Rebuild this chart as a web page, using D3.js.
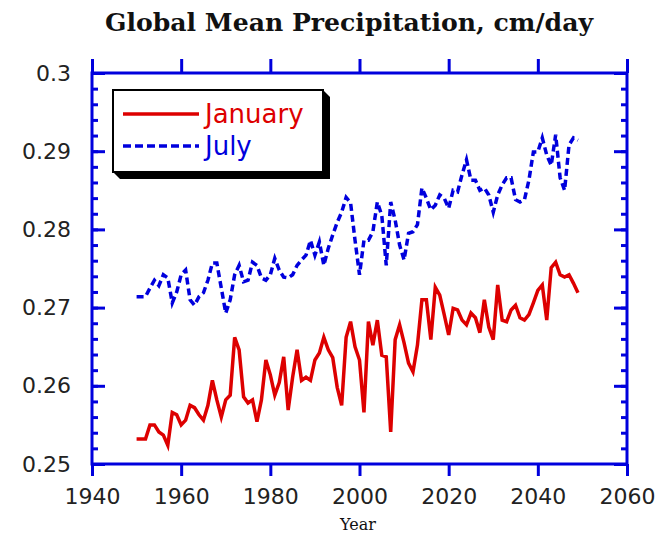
<!DOCTYPE html>
<html>
<head>
<meta charset="utf-8">
<script src="https://cdn.jsdelivr.net/npm/d3@7"></script>
<style>
  html, body { margin: 0; padding: 0; background: #fff; }
  svg { display: block; }
</style>
</head>
<body>
<svg id="chart" width="660" height="535"></svg>
<script>
// Annual global mean precipitation (cm/day), 1950-2049
const years = d3.range(1950, 2050);

const january = [
  0.2532, 0.2532, 0.2532, 0.2550, 0.2550, 0.2541, 0.2537, 0.2524, 0.2566, 0.2563,
  0.2550, 0.2556, 0.2575, 0.2572, 0.2563, 0.2556, 0.2575, 0.2607, 0.2582, 0.2560,
  0.2582, 0.2588, 0.2662, 0.2646, 0.2586, 0.2578, 0.2582, 0.2554, 0.2582, 0.2633,
  0.2614, 0.2588, 0.2604, 0.2637, 0.2569, 0.2611, 0.2646, 0.2607, 0.2611, 0.2607,
  0.2633, 0.2642, 0.2662, 0.2646, 0.2636, 0.2598, 0.2575, 0.2662, 0.2682, 0.2650,
  0.2633, 0.2566, 0.2682, 0.2652, 0.2684, 0.2639, 0.2637, 0.2541, 0.2659, 0.2678,
  0.2655, 0.2629, 0.2618, 0.2652, 0.2710, 0.2710, 0.2659, 0.2726, 0.2716, 0.2691,
  0.2665, 0.2699, 0.2697, 0.2684, 0.2678, 0.2693, 0.2687, 0.2668, 0.2710, 0.2675,
  0.2659, 0.2729, 0.2684, 0.2682, 0.2697, 0.2703, 0.2687, 0.2684, 0.2691, 0.2706,
  0.2722, 0.2729, 0.2684, 0.2751, 0.2758, 0.2742, 0.2739, 0.2742, 0.2731, 0.2719
];

const july = [
  0.2714, 0.2714, 0.2714, 0.2725, 0.2735, 0.2728, 0.2742, 0.2738, 0.2706, 0.2720,
  0.2742, 0.2748, 0.2710, 0.2703, 0.2714, 0.2719, 0.2735, 0.2757, 0.2757, 0.2725,
  0.2693, 0.2710, 0.2742, 0.2754, 0.2733, 0.2735, 0.2758, 0.2754, 0.2738, 0.2735,
  0.2742, 0.2763, 0.2748, 0.2739, 0.2738, 0.2742, 0.2754, 0.2761, 0.2767, 0.2786,
  0.2767, 0.2784, 0.2754, 0.2776, 0.2793, 0.2809, 0.2822, 0.2841, 0.2834, 0.2786,
  0.2742, 0.2786, 0.2786, 0.2797, 0.2835, 0.2818, 0.2754, 0.2835, 0.2812, 0.2780,
  0.2761, 0.2795, 0.2797, 0.2806, 0.2853, 0.2840, 0.2825, 0.2831, 0.2844, 0.2840,
  0.2827, 0.2850, 0.2848, 0.2870, 0.2889, 0.2863, 0.2863, 0.2850, 0.2853, 0.2844,
  0.2822, 0.2844, 0.2857, 0.2866, 0.2866, 0.2838, 0.2835, 0.2838, 0.2863, 0.2899,
  0.2899, 0.2917, 0.2895, 0.2882, 0.2921, 0.2866, 0.2850, 0.2908, 0.2917, 0.2914
];

const xTicks = [1940, 1960, 1980, 2000, 2020, 2040, 2060];
const yTicks = [0.25, 0.26, 0.27, 0.28, 0.29, 0.3];
const yMinorTicks = d3.range(0.25, 0.3001, 0.002);

const seriesNames = ["January", "July"];

const RED = "#dd0000";
const BLUE = "#0000dd";

const svg = d3.select("#chart");

const x = d3.scaleLinear().domain([1940, 2060]).range([92, 627]);
const y = d3.scaleLinear().domain([0.25, 0.3]).range([464, 73]);

// Title
svg.append("text")
  .attr("x", 349).attr("y", 31)
  .attr("text-anchor", "middle")
  .attr("font-family", "'DejaVu Serif', serif")
  .attr("font-weight", "bold")
  .attr("font-size", 24)
  .attr("textLength", 488)
  .attr("lengthAdjust", "spacingAndGlyphs")
  .attr("fill", "#111")
  .text("Global Mean Precipitation, cm/day");

// Data lines
const line = d3.line()
  .x((d, i) => x(years[i]))
  .y(d => y(d))
  .curve(d3.curveLinear);

svg.append("path")
  .datum(july)
  .attr("d", line)
  .attr("fill", "none")
  .attr("stroke", BLUE)
  .attr("stroke-width", 3.5)
  .attr("stroke-dasharray", "7,4");

svg.append("path")
  .datum(january)
  .attr("d", line)
  .attr("fill", "none")
  .attr("stroke", RED)
  .attr("stroke-width", 3.5);

// Frame axes
const axisG = svg.append("g").attr("fill", "none").attr("stroke", BLUE).attr("stroke-width", 3);
const [x0, x1] = x.range();
const [yb, yt] = y.range();

axisG.append("rect")
  .attr("x", x0).attr("y", yt)
  .attr("width", x1 - x0).attr("height", yb - yt);

// Bottom and top: major ticks pointing outward
const bottomAxis = d3.axisBottom(x).tickValues(xTicks).tickSize(12).tickFormat(d3.format("d"));
const topAxis = d3.axisTop(x).tickValues(xTicks).tickSize(14).tickFormat("");

const gB = svg.append("g").attr("transform", `translate(0,${yb})`).call(bottomAxis);
const gT = svg.append("g").attr("transform", `translate(0,${yt})`).call(topAxis);

// Left and right: ticks pointing inward
const leftMinor = d3.axisRight(y).tickValues(yMinorTicks).tickSize(6).tickFormat("");
const leftMajor = d3.axisRight(y).tickValues(yTicks).tickSize(13).tickFormat("");
const rightMinor = d3.axisLeft(y).tickValues(yMinorTicks).tickSize(6).tickFormat("");
const rightMajor = d3.axisLeft(y).tickValues(yTicks).tickSize(13).tickFormat("");
const leftLabels = d3.axisLeft(y).tickValues(yTicks).tickSize(0).tickPadding(21).tickFormat(d => d === 0.3 ? "0.3" : d3.format(".2f")(d));

const gL1 = svg.append("g").attr("transform", `translate(${x0},0)`).call(leftMinor);
const gL2 = svg.append("g").attr("transform", `translate(${x0},0)`).call(leftMajor);
const gR1 = svg.append("g").attr("transform", `translate(${x1},0)`).call(rightMinor);
const gR2 = svg.append("g").attr("transform", `translate(${x1},0)`).call(rightMajor);
const gLL = svg.append("g").attr("transform", `translate(${x0},0)`).call(leftLabels);

[gB, gT, gL1, gL2, gR1, gR2, gLL].forEach(g => {
  g.select(".domain").remove();
  g.selectAll(".tick line").attr("stroke", BLUE).attr("stroke-width", 3);
  g.selectAll(".tick text")
    .attr("fill", "#222")
    .attr("font-family", "'DejaVu Sans', sans-serif")
    .attr("font-size", 22);
});
gB.selectAll(".tick text").attr("dy", "1.15em");

// Axis title
svg.append("text")
  .attr("x", 358).attr("y", 530)
  .attr("text-anchor", "middle")
  .attr("font-family", "'DejaVu Serif', serif")
  .attr("font-size", 16)
  .attr("fill", "#111")
  .text("Year");

// Legend with drop shadow
const lg = svg.append("g");
const bx = 113, by = 90, bw = 210, bh = 82, off = 7;
lg.append("polygon")
  .attr("points", [
    [bx + bw, by], [bx + bw + off, by + off], [bx + bw + off, by + bh + off],
    [bx + off, by + bh + off], [bx, by + bh]
  ].map(p => p.join(",")).join(" "))
  .attr("fill", "#000");
lg.append("rect")
  .attr("x", bx).attr("y", by).attr("width", bw).attr("height", bh)
  .attr("fill", "#fff").attr("stroke", "#000").attr("stroke-width", 2);

const legendRows = [
  { name: seriesNames[0], color: RED, dash: null, y: 114 },
  { name: seriesNames[1], color: BLUE, dash: "8,4", y: 146 }
];
legendRows.forEach(r => {
  lg.append("line")
    .attr("x1", 123).attr("x2", 199).attr("y1", r.y).attr("y2", r.y)
    .attr("stroke", r.color).attr("stroke-width", 3.5)
    .attr("stroke-dasharray", r.dash);
  lg.append("text")
    .attr("x", 205).attr("y", r.y + 9)
    .attr("font-family", "'DejaVu Sans', sans-serif")
    .attr("font-size", 26)
    .attr("fill", r.color)
    .text(r.name);
});
</script>
</body>
</html>
